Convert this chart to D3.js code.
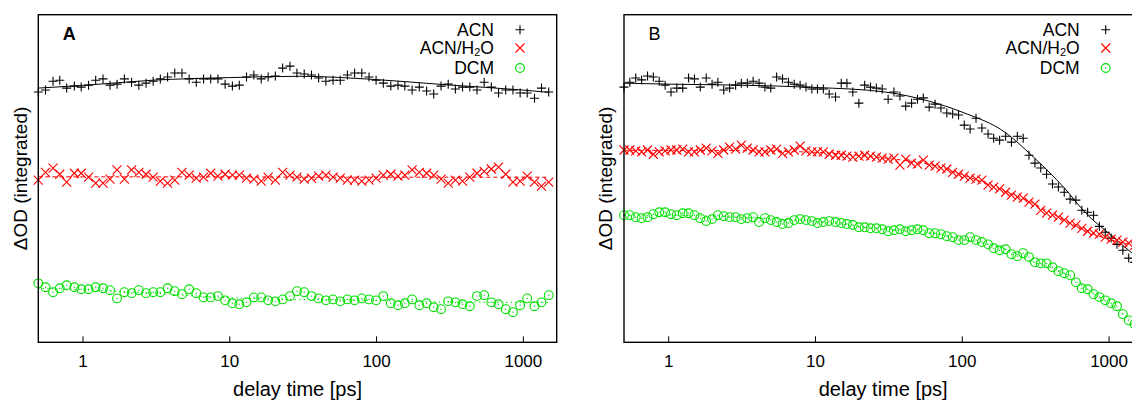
<!DOCTYPE html>
<html><head><meta charset="utf-8">
<script src="https://cdn.jsdelivr.net/npm/d3@7"></script>
<style>
body{margin:0;background:#fff}
svg{display:block}
text{font-family:"Liberation Sans",Arial,Helvetica,sans-serif;fill:#000}
</style>
</head><body>
<svg id="c" width="1132" height="401"></svg>
<script>
// ---------- DATA ----------
const seriesNames = ["ACN", "ACN/H2O", "DCM"];
const xTicks = [1, 10, 100, 1000];
const panelLabels = ["A", "B"];
const xTitle = "delay time [ps]";
const yTitle = "\u0394OD (integrated)";

// panel A delay times [ps]
const timesA = [0.50,0.56,0.63,0.70,0.78,0.88,0.98,1.10,1.23,1.38,1.54,1.72,1.93,2.16,2.42,2.71,3.03,3.39,3.80,4.25,4.76,5.33,5.96,6.68,7.47,8.37,9.37,10.5,11.7,13.1,14.7,16.5,18.4,20.6,23.1,25.9,28.9,32.4,36.3,40.6,45.5,50.9,57.0,63.8,71.4,79.9,89.5,100,112,126,141,157,176,197,221,247,277,310,347,388,435,487,545,610,683,764,856,958,1070,1200,1340,1500];
const acnA = [76.4,77.0,79.7,80.0,77.6,78.2,77.9,78.5,80.0,80.4,
78.5,78.8,80.4,79.4,78.5,79.1,79.7,80.4,81.0,82.2,
82.2,80.4,79.4,80.4,80.4,80.4,78.8,78.2,78.5,81.0,
81.6,80.4,81.0,81.3,83.7,84.3,82.2,81.9,81.6,80.7,
79.7,80.0,80.0,81.6,82.2,82.2,81.0,80.0,79.1,78.2,
78.5,78.2,77.0,77.9,76.7,75.8,78.2,78.8,77.3,77.9,
77.9,77.0,79.4,77.9,76.1,77.0,77.0,76.1,76.1,74.5,
77.6,76.4];
const h2oA = [49.5,51.9,53.2,51.3,48.9,51.6,51.6,50.4,48.6,48.6,
49.8,52.6,49.8,52.6,51.9,51.3,50.4,49.2,48.6,49.5,
51.9,51.0,50.1,50.4,51.6,50.7,51.3,51.0,51.0,50.1,
49.8,49.2,50.4,49.5,51.9,51.0,50.4,49.8,50.1,50.7,
51.0,50.4,50.1,49.5,49.5,49.2,49.5,50.1,51.0,51.3,
50.7,51.0,52.6,51.9,51.6,51.0,49.8,48.6,49.5,49.2,
50.4,51.6,52.2,52.9,53.5,51.3,48.9,49.2,50.7,48.9,
47.7,48.9];
const dcmA = [18.0,16.8,15.3,16.5,17.4,16.8,16.2,16.2,16.8,16.5,
15.9,13.4,15.3,15.0,15.9,15.0,15.3,15.3,16.5,15.6,
14.7,16.2,15.0,13.7,13.7,14.1,12.8,11.9,11.6,12.2,
13.7,13.7,12.8,12.5,13.1,14.1,15.6,15.3,14.1,13.4,
12.8,13.1,12.5,13.1,12.8,13.4,13.1,12.8,14.1,11.9,
11.3,11.9,13.1,11.3,11.9,10.7,10.1,12.5,12.2,11.6,
11.0,14.1,14.4,12.2,11.6,10.1,9.2,11.3,13.4,11.0,
12.2,14.4];
const fitTimesA = [0.5,1,3,10,30,100,300,1000,1500];
const acnFitA = [77.6,78.4,80.0,80.8,81.2,80.2,78.6,77.0,76.3];
const h2oFitA = [50.5,50.5,50.5,50.5,50.4,50.4,50.4,50.4,50.4];
const dcmFitA = [16.5,16.0,15.0,13.6,13.1,12.8,12.3,12.2,12.2];

// panel B delay times [ps]
const timesB = [0.500,0.548,0.601,0.659,0.723,0.792,0.869,0.953,1.045,1.145,
1.256,1.377,1.510,1.655,1.815,1.990,2.18,2.39,2.62,2.88,
3.15,3.46,3.79,4.16,4.56,5.00,5.48,6.01,6.59,7.22,
7.92,8.68,9.52,10.4,11.4,12.5,13.8,15.1,16.5,18.1,
19.9,21.8,23.9,26.2,28.7,31.5,34.5,37.9,41.5,45.5,
49.9,54.7,60.0,65.8,72.1,79.1,86.7,95.1,104,114,
125,137,151,165,181,199,218,239,262,287,
315,345,378,415,455,499,547,599,657,720,
790,866,949,1041,1141,1251,1372,1504];
const acnB = [77.9,79.4,80.7,80.1,81.3,81.0,79.7,78.5,76.4,77.6,
77.6,80.7,80.4,77.9,80.7,78.8,79.4,77.0,77.6,78.5,
79.1,79.1,79.7,79.1,77.9,77.6,81.0,80.4,79.4,78.8,
78.5,77.9,77.3,77.3,77.3,75.8,74.9,79.1,79.1,76.4,
73.0,78.5,77.9,77.6,77.3,74.2,76.4,75.2,72.1,73.0,
74.2,74.6,71.8,72.7,71.5,70.0,69.7,69.4,66.3,65.1,
68.4,65.4,63.6,62.3,61.7,62.9,61.1,62.9,62.3,57.1,
54.7,53.2,51.3,48.3,47.4,45.8,43.7,43.4,40.3,39.7,
38.8,35.4,33.6,31.8,29.9,28.1,25.7,24.4];
const h2oB = [58.7,58.7,58.4,58.1,58.7,57.4,58.1,58.4,58.7,58.7,
59.0,58.1,58.1,58.7,59.3,58.4,57.7,58.7,59.6,59.0,
60.2,59.3,58.7,58.1,58.1,58.7,59.0,57.7,58.1,58.7,
59.9,58.4,58.1,58.1,58.1,57.4,57.1,57.1,56.8,56.5,
56.8,57.1,56.8,56.5,56.2,55.9,56.2,54.1,55.9,54.7,
54.4,55.6,54.1,53.8,53.2,52.9,51.9,51.3,50.7,50.1,
49.8,49.5,48.0,47.4,46.8,45.8,44.9,44.3,44.0,42.8,
42.2,40.3,39.4,38.8,38.2,37.3,36.4,35.8,34.8,33.9,
33.3,33.0,32.1,31.5,31.2,30.6,30.3,29.6];
const dcmB = [38.8,38.8,38.2,37.9,38.2,39.1,39.7,39.7,39.1,38.8,
39.4,39.4,38.8,37.9,37.0,37.6,38.8,38.5,38.2,38.2,
37.6,37.9,38.2,36.7,37.9,37.3,36.7,36.1,36.4,37.3,
37.6,37.3,37.0,36.4,36.7,37.0,36.7,36.4,36.1,35.8,
35.1,35.1,34.8,34.8,34.5,33.9,34.2,34.5,33.9,34.2,
34.5,34.2,33.3,33.3,33.0,32.4,32.1,31.2,31.2,32.1,
31.2,30.6,29.9,28.7,28.1,28.4,26.9,26.3,27.2,26.0,
24.4,24.1,24.1,22.9,21.7,21.1,20.5,18.3,16.5,16.2,
14.7,13.8,12.8,11.9,11.0,8.6,6.7,5.5];
const fitTimesB = [0.5,1,3,10,30,60,100,200,300,500,700,1000,1500];
const acnFitB = [79.1,78.8,78.5,77.8,76.4,73.6,70.3,63.9,57.0,47.1,39.4,33.3,26.6];
const h2oFitB = [58.6,58.6,58.5,58.0,56.2,54.3,51.2,46.0,42.6,37.3,34.0,31.5,29.6];
const dcmFitB = [38.8,38.8,38.2,36.9,34.5,33.5,31.5,28.3,24.7,21.1,16.5,12.0,5.8];

// ---------- DRAWING ----------
const svg = d3.select("#c");
const W = 518.4, H = 327.6, TOP = 14.7;
const colors = ["#000000", "#ff0000", "#00e000"];
const fitDash = [null, "4,3", "1.5,3"];

const panels = [
  {left: 38.3, label: panelLabels[0], bold: true, times: timesA, series: [acnA, h2oA, dcmA],
   fitT: fitTimesA, fits: [acnFitA, h2oFitA, dcmFitA]},
  {left: 624, label: panelLabels[1], bold: false, times: timesB, series: [acnB, h2oB, dcmB],
   fitT: fitTimesB, fits: [acnFitB, h2oFitB, dcmFitB]}
];

function drawMarker(g, k, px, py) {
  const c = colors[k];
  const s = 4.5;
  if (k === 0) {
    g.append("path").attr("d", `M${px-s},${py}H${px+s}M${px},${py-s}V${py+s}`)
      .attr("stroke", c).attr("stroke-width", 1.1).attr("fill", "none");
  } else if (k === 1) {
    g.append("path").attr("d", `M${px-s},${py-s}L${px+s},${py+s}M${px+s},${py-s}L${px-s},${py+s}`)
      .attr("stroke", c).attr("stroke-width", 1.1).attr("fill", "none");
  } else {
    g.append("circle").attr("cx", px).attr("cy", py).attr("r", 4.4)
      .attr("stroke", c).attr("stroke-width", 1.1).attr("fill", "none");
    g.append("circle").attr("cx", px).attr("cy", py).attr("r", 0.7).attr("fill", c);
  }
}

panels.forEach(p => {
  const g = svg.append("g").attr("transform", `translate(${p.left},${TOP})`);
  const x = d3.scaleLog().domain([0.5, 1700]).range([0, W]);
  const y = d3.scaleLinear().domain([0, 100]).range([H, 0]);

  // fits
  p.fits.forEach((f, k) => {
    const line = d3.line().x((d, i) => x(p.fitT[i])).y(d => y(d)).curve(d3.curveMonotoneX);
    g.append("path").datum(f).attr("d", line).attr("fill", "none")
      .attr("stroke", colors[k]).attr("stroke-width", 1)
      .attr("stroke-dasharray", fitDash[k]);
  });

  // data points
  p.series.forEach((s, k) => {
    const sg = g.append("g");
    s.forEach((v, i) => drawMarker(sg, k, x(p.times[i]), y(v)));
  });

  // axis
  const ax = g.append("g").attr("transform", `translate(0,${H})`)
    .call(d3.axisBottom(x).tickValues(xTicks).tickSize(-6).tickSizeOuter(0)
      .tickPadding(13).tickFormat(d3.format("d")));
  ax.select(".domain").remove();
  ax.selectAll(".tick line").attr("stroke", "#000").attr("stroke-width", 1);
  ax.selectAll(".tick text").attr("font-size", 17).attr("font-family", '"Liberation Sans",Arial,sans-serif').attr("fill", "#000");

  // frame
  g.append("rect").attr("x", 0).attr("y", 0).attr("width", W).attr("height", H)
    .attr("fill", "none").attr("stroke", "#000").attr("stroke-width", 1.4);

  // panel label
  g.append("text").attr("x", 24.5).attr("y", 25.8).attr("font-size", 18)
    .attr("font-weight", p.bold ? "bold" : "normal").text(p.label);

  // legend
  seriesNames.forEach((name, k) => {
    const by = [21, 39.3, 59.3][k];
    const t = g.append("text").attr("x", 455.7).attr("y", by).attr("text-anchor", "end").attr("font-size", 17.5);
    if (name === "ACN/H2O") {
      t.append("tspan").text("ACN/H");
      t.append("tspan").attr("font-size", 11).attr("dy", 2).text("2");
      t.append("tspan").attr("dy", -2).text("O");
    } else {
      t.text(name);
    }
    drawMarker(g, k, 481.7, by - 6);
  });

  // axis titles
  g.append("text").attr("x", W / 2).attr("y", H + 54).attr("text-anchor", "middle")
    .attr("font-size", 20).text(xTitle);
  g.append("text").attr("transform", `translate(-11.6,${H / 2}) rotate(-90)`)
    .attr("text-anchor", "middle").attr("font-size", 19).text(yTitle);
});
</script>
</body></html>
